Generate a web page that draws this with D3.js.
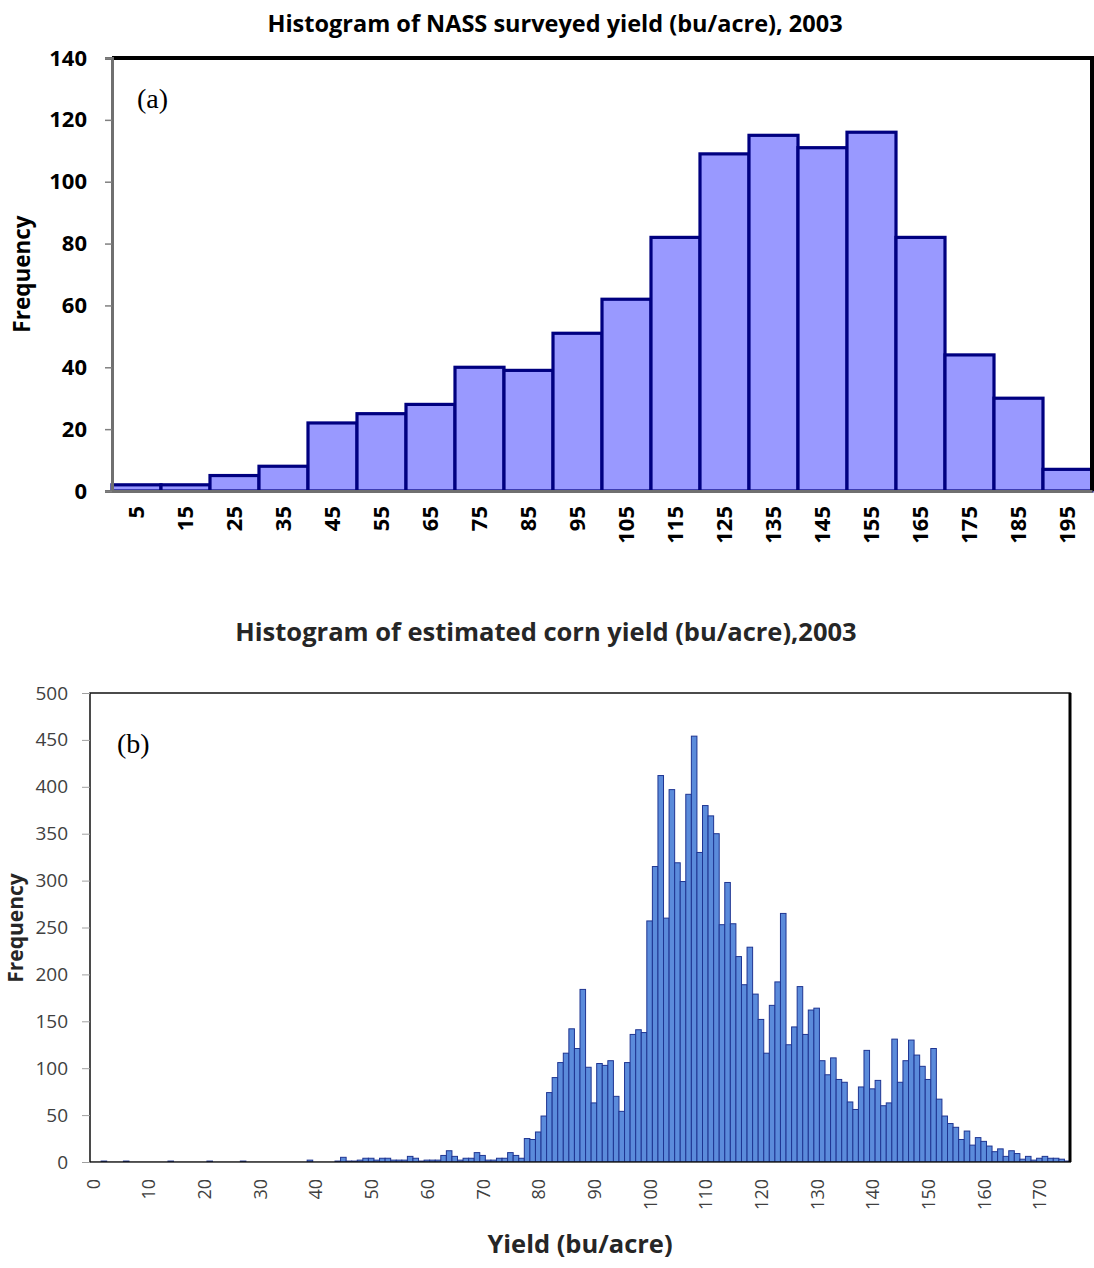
<!DOCTYPE html>
<html>
<head>
<meta charset="utf-8">
<script src="https://cdn.jsdelivr.net/npm/d3@7"></script>
<style>
  html, body { margin: 0; padding: 0; background: #fff; }
  svg { display: block; font-family: "Open Sans", "Noto Sans", sans-serif; }
  .serif { font-family: "Liberation Serif", "Times New Roman", serif; }
</style>
</head>
<body>
<svg id="chart" width="1094" height="1268"></svg>
<script>
// ---------- Panel (a): NASS surveyed yield, 10 bu/acre bins ----------
const nassBins = ["5","15","25","35","45","55","65","75","85","95","105","115","125","135","145","155","165","175","185","195"];
const nassFreq = [2, 2, 5, 8, 22, 25, 28, 40, 39, 51, 62, 82, 109, 115, 111, 116, 82, 44, 30, 7];
const nassTicks = [0, 20, 40, 60, 80, 100, 120, 140];

// ---------- Panel (b): estimated corn yield, 1 bu/acre bins (0..175) ----------
const estBins = d3.range(0, 176);
const estFreq = [
  // 0-9
  0, 0, 1, 0, 0, 0, 1, 0, 0, 0,
  // 10-19
  0, 0, 0, 0, 1, 0, 0, 0, 0, 0,
  // 20-29
  0, 1, 0, 0, 0, 0, 0, 1, 0, 0,
  // 30-39
  0, 0, 0, 0, 0, 0, 0, 0, 0, 2,
  // 40-49
  0, 0, 0, 0, 1, 5, 1, 1, 2, 4,
  // 50-59
  4, 2, 4, 4, 2, 2, 2, 6, 4, 1,
  // 60-69
  2, 2, 2, 7, 12, 6, 2, 4, 4, 10,
  // 70-79
  7, 2, 2, 4, 4, 10, 7, 4, 25, 24,
  // 80-89
  32, 49, 74, 90, 106, 116, 142, 121, 184, 101,
  // 90-99
  63, 105, 103, 108, 70, 54, 106, 136, 141, 138,
  // 100-109
  257, 315, 412, 260, 397, 319, 299, 392, 454, 330,
  // 110-119
  380, 369, 350, 253, 298, 254, 219, 189, 229, 179,
  // 120-129
  152, 116, 167, 192, 265, 125, 144, 187, 136, 162,
  // 130-139
  164, 108, 93, 111, 88, 85, 64, 56, 80, 119,
  // 140-149
  78, 87, 60, 63, 131, 85, 108, 130, 114, 102,
  // 150-159
  88, 121, 67, 49, 41, 37, 24, 33, 18, 26,
  // 160-169
  22, 17, 11, 14, 6, 12, 9, 3, 6, 2,
  // 170-175
  4, 6, 4, 4, 3, 1
];
const estXTicks = d3.range(0, 171, 10);
const estYTicks = d3.range(0, 501, 50);

const svg = d3.select("#chart");
const sans = "'Open Sans', 'Noto Sans', sans-serif";

// ===================== Panel (a) =====================
{
  const left = 112, right = 1092, top = 58, bottom = 491;
  const x = d3.scaleBand().domain(nassBins).range([left, right]).padding(0);
  const y = d3.scaleLinear().domain([0, 140]).range([bottom, top]);

  svg.append("text")
    .attr("x", 555).attr("y", 32)
    .attr("text-anchor", "middle")
    .attr("font-weight", "bold").attr("font-size", 23.5)
    .attr("fill", "#000")
    .text("Histogram of NASS surveyed yield (bu/acre), 2003");

  // bars
  svg.append("g").selectAll("rect")
    .data(nassBins.map((b, i) => ({ bin: b, v: nassFreq[i] })))
    .join("rect")
    .attr("x", d => x(d.bin))
    .attr("y", d => y(d.v))
    .attr("width", x.bandwidth())
    .attr("height", d => bottom - y(d.v))
    .attr("fill", "#9999ff")
    .attr("stroke", "#000080")
    .attr("stroke-width", 3.2);

  // frame: heavy top and right edges
  svg.append("line").attr("x1", left).attr("x2", right + 2).attr("y1", top).attr("y2", top)
    .attr("stroke", "#000").attr("stroke-width", 4);
  svg.append("line").attr("x1", right).attr("x2", right).attr("y1", top).attr("y2", bottom)
    .attr("stroke", "#000").attr("stroke-width", 4);

  // y axis
  const yAxis = svg.append("g")
    .attr("transform", `translate(${left},0)`)
    .call(d3.axisLeft(y).tickValues(nassTicks).tickSize(7).tickPadding(18));
  yAxis.select(".domain").attr("stroke", "#707070").attr("stroke-width", 3);
  yAxis.selectAll(".tick line").attr("stroke", "#808080").attr("stroke-width", 1.5);
  yAxis.selectAll("text")
    .style("font-family", sans)
    .attr("font-size", 22).attr("font-weight", "bold").attr("fill", "#000");

  // x axis (labels rotated)
  const xAxis = svg.append("g")
    .attr("transform", `translate(0,${bottom})`)
    .call(d3.axisBottom(x).tickSize(0));
  xAxis.select(".domain").attr("stroke", "#707070").attr("stroke-width", 3);
  xAxis.selectAll("text")
    .style("font-family", sans)
    .attr("font-size", 22).attr("font-weight", "bold").attr("fill", "#000")
    .attr("transform", "rotate(-90)")
    .attr("text-anchor", "end")
    .attr("x", -15).attr("y", 0).attr("dy", "0.36em");

  svg.append("text")
    .attr("transform", "translate(30,274) rotate(-90)")
    .attr("text-anchor", "middle")
    .attr("font-weight", "bold").attr("font-size", 22.5)
    .text("Frequency");

  svg.append("text")
    .attr("class", "serif")
    .attr("x", 137).attr("y", 108)
    .attr("font-size", 28)
    .text("(a)");
}

// ===================== Panel (b) =====================
{
  const left = 90, right = 1070, top = 693, bottom = 1162;
  const x = d3.scaleLinear().domain([0, 176]).range([left, right]);
  const y = d3.scaleLinear().domain([0, 500]).range([bottom, top]);

  svg.append("text")
    .attr("x", 546).attr("y", 641)
    .attr("text-anchor", "middle")
    .attr("font-weight", "bold").attr("font-size", 25.5)
    .attr("fill", "#262626")
    .text("Histogram of estimated corn yield (bu/acre),2003");

  // bars, one per 1 bu/acre bin
  svg.append("g").selectAll("rect")
    .data(estBins.map((b, i) => ({ bin: b, v: estFreq[i] })))
    .join("rect")
    .attr("x", d => x(d.bin))
    .attr("y", d => y(d.v))
    .attr("width", d => x(d.bin + 1) - x(d.bin))
    .attr("height", d => bottom - y(d.v))
    .attr("fill", "#5b8bdb")
    .attr("stroke", "#1f3592")
    .attr("stroke-width", 1);

  // plot frame
  svg.append("rect")
    .attr("x", left).attr("y", top)
    .attr("width", right - left).attr("height", bottom - top)
    .attr("fill", "none").attr("stroke", "#111").attr("stroke-width", 1.5);
  svg.append("line").attr("x1", right).attr("x2", right).attr("y1", top).attr("y2", bottom)
    .attr("stroke", "#000").attr("stroke-width", 3);

  // y axis
  const yAxis = svg.append("g")
    .attr("transform", `translate(${left},0)`)
    .call(d3.axisLeft(y).tickValues(estYTicks).tickSize(8).tickPadding(14));
  yAxis.select(".domain").remove();
  yAxis.selectAll(".tick line").attr("stroke", "#a0a0a0").attr("stroke-width", 1);
  yAxis.selectAll("text")
    .style("font-family", sans)
    .attr("font-size", 19).attr("fill", "#404040");

  // x axis: labels centred on bins, rotated
  const xAxis = svg.append("g")
    .attr("transform", `translate(0,${bottom})`)
    .call(d3.axisBottom(x).tickValues(estXTicks.map(v => v + 0.5)).tickSize(0)
      .tickFormat(v => d3.format("d")(v - 0.5)));
  xAxis.select(".domain").attr("stroke", "#606060").attr("stroke-width", 1);
  xAxis.selectAll("text")
    .style("font-family", sans)
    .attr("font-size", 18).attr("fill", "#404040")
    .attr("transform", "rotate(-90)")
    .attr("text-anchor", "end")
    .attr("x", -17).attr("y", 0).attr("dy", "0.36em");

  svg.append("text")
    .attr("transform", "translate(23,928) rotate(-90)")
    .attr("text-anchor", "middle")
    .attr("font-weight", "bold").attr("font-size", 21)
    .attr("fill", "#262626")
    .text("Frequency");

  svg.append("text")
    .attr("x", 580).attr("y", 1253)
    .attr("text-anchor", "middle")
    .attr("font-weight", "bold").attr("font-size", 25.5)
    .attr("fill", "#262626")
    .text("Yield (bu/acre)");

  svg.append("text")
    .attr("class", "serif")
    .attr("x", 117).attr("y", 753)
    .attr("font-size", 28)
    .text("(b)");
}
</script>
</body>
</html>
